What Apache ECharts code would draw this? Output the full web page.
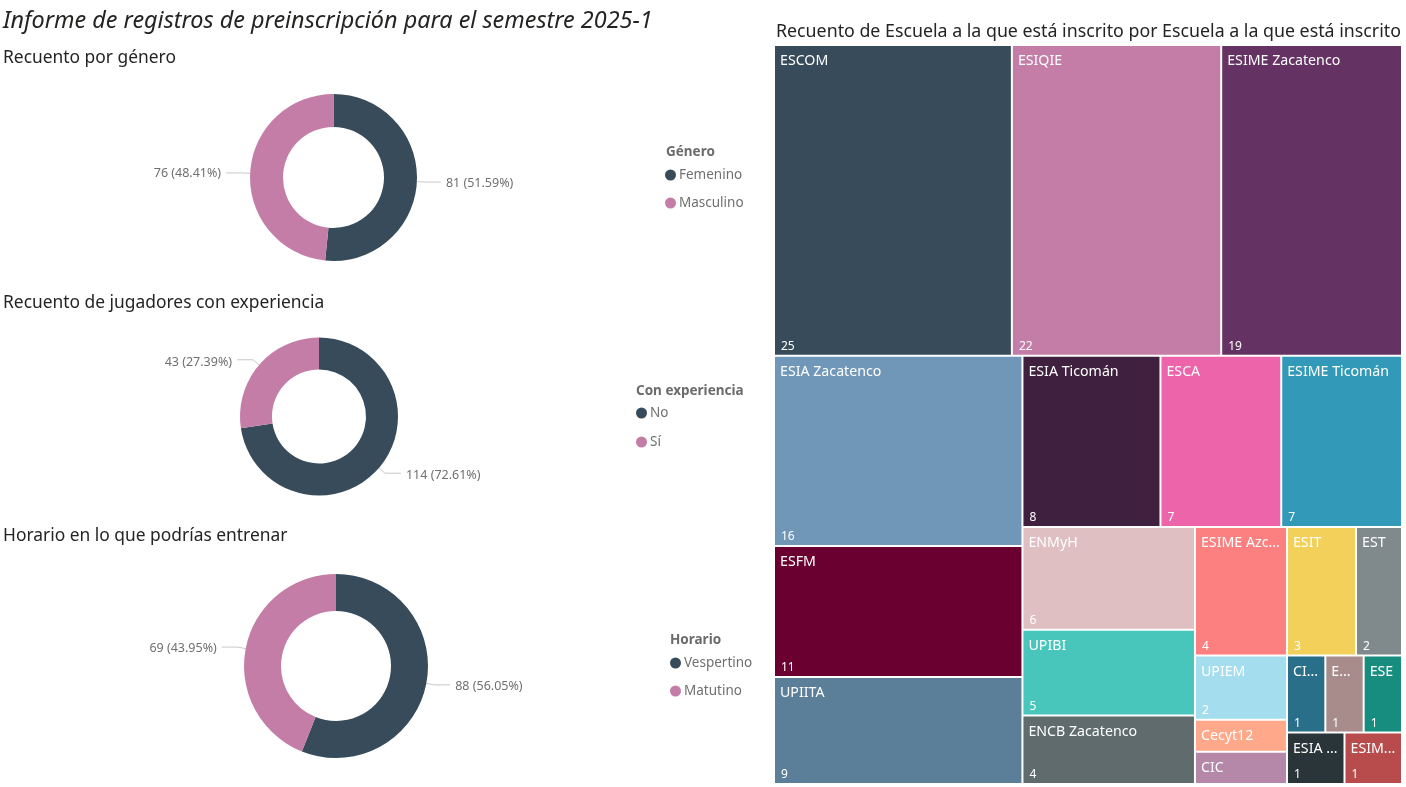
<!DOCTYPE html>
<html><head><meta charset="utf-8">
<style>html,body{margin:0;padding:0;background:#fff}#c{width:1406px;height:787px}</style>
<script src="https://cdn.jsdelivr.net/npm/echarts@6/dist/echarts.min.js"></script>
</head><body><div id="c"></div>
<script>
var genderNames = ['Femenino', 'Masculino'];
var genderValues = [81, 76];
var expNames = ['No', 'Sí'];
var expValues = [114, 43];
var timeNames = ['Vespertino', 'Matutino'];
var timeValues = [88, 69];
var schoolNames = ['ESCOM','ESIQIE','ESIME Zacatenco','ESIA Zacatenco','ESFM','UPIITA','ESIA Ticomán','ESCA','ESIME Ticomán','ENMyH','UPIBI','ENCB Zacatenco','ESIME Azc...','ESIT','EST','UPIEM','Cecyt12','CIC','CI...','E...','ESE','ESIA ...','ESIM...'];
var schoolCounts = [25,22,19,16,11,9,8,7,7,6,5,4,4,3,2,2,1,1,1,1,1,1,1];
var schoolColors = ['#374B5A','#C47DA6','#643263','#7097B8','#690030','#5C7F99','#40203F','#EE64AA','#3399B8','#DFBFC2','#48C6BC','#5F6B6D','#FD8080','#F3D05A','#808A8C','#A4DDEE','#FFA98A','#B587A9','#2A6F8A','#A88C8C','#178D80','#2A3539','#B84C4C'];
var countHidden = ['Cecyt12','CIC'];
var pieColors = ['#374B5A','#C47DA6'];
var FONT = '"Noto Sans"';

function pie(names, values, cx, cy, r0, r1, dy) {
  return {
    type: 'pie', center: [cx, cy], radius: [r0, r1], startAngle: 90, clockwise: true,
    percentPrecision: 2, silent: true, animation: false, color: pieColors,
    data: names.map(function (n, i) { return { name: n, value: values[i] }; }),
    label: { formatter: '{c} ({d}%)', color: '#707070', fontFamily: FONT, fontSize: 12.5 },
    labelLine: { length: 8, length2: 16, lineStyle: { color: '#c8c8c8', width: 1 } },
    labelLayout: { dy: dy },
    emphasis: { disabled: true }
  };
}
function legend(names, x, y, gap) {
  return {
    orient: 'vertical', left: x, top: y, data: names, icon: 'circle', itemWidth: 11, itemHeight: 11,
    itemGap: gap, selectedMode: false, padding: 0,
    textStyle: { color: '#707070', fontFamily: FONT, fontSize: 13.5, padding: [0, 0, 0, -2] }
  };
}
function tree(isCount) {
  return {
    type: 'treemap', left: 775, top: 46, width: 626, height: 737, roam: false, nodeClick: false,
    breadcrumb: { show: false }, sort: false, silent: true, animation: false, visibleMin: 0,
    itemStyle: { gapWidth: 2, borderWidth: 0, borderColor: '#fff' },
    upperLabel: { show: false },
    label: {
      show: true, position: isCount ? 'insideBottomLeft' : 'insideTopLeft', color: '#fff', fontFamily: FONT,
      fontSize: isCount ? 12 : 14.2, overflow: 'none', distance: 0,
      padding: isCount ? [0, 0, 1, 6] : [6, 0, 0, 5], lineHeight: isCount ? 14 : 18,
      formatter: function (p) { return isCount ? (countHidden.indexOf(p.name) >= 0 ? '' : String(p.value)) : p.name; }
    },
    levels: [{ itemStyle: { gapWidth: 2, borderWidth: 0 } }],
    data: schoolNames.map(function (n, i) {
      return { name: n, value: schoolCounts[i], itemStyle: { color: isCount ? 'rgba(0,0,0,0)' : schoolColors[i] } };
    })
  };
}
function title(text, x, y, size, extra) {
  var ts = Object.assign({ color: '#252423', fontFamily: FONT, fontSize: size, fontWeight: 'normal' }, extra || {});
  return { text: text, left: x, top: y, padding: 0, textStyle: ts };
}
var chart = echarts.init(document.getElementById('c'), null, { renderer: 'canvas' });
chart.setOption({
  animation: false,
  title: [
    title('Informe de registros de preinscripción para el semestre 2025-1', 3, 10, 23.4, { fontStyle: 'italic' }),
    title('Recuento por género', 3, 50, 17.4),
    title('Recuento de jugadores con experiencia', 3, 295, 17.4),
    title('Horario en lo que podrías entrenar', 3, 528, 17.4),
    title('Recuento de Escuela a la que está inscrito por Escuela a la que está inscrito', 776, 23, 17.8),
    title('Género', 666, 145, 13.5, { fontWeight: 'bold', color: '#6b6b6b' }),
    title('Con experiencia', 636, 384, 13.5, { fontWeight: 'bold', color: '#6b6b6b' }),
    title('Horario', 670, 633, 13.5, { fontWeight: 'bold', color: '#6b6b6b' })
  ],
  color: pieColors,
  legend: [legend(genderNames, 665, 168, 14), legend(expNames, 636, 406, 15), legend(timeNames, 670, 656, 14)],
  series: [
    pie(genderNames, genderValues, 333.5, 177.5, 50.5, 83.5, 1),
    pie(expNames, expValues, 319, 416.5, 47, 79, 2.5),
    pie(timeNames, timeValues, 336, 666, 55, 92, 1.5),
    tree(false), tree(true)
  ]
});
</script></body></html>
